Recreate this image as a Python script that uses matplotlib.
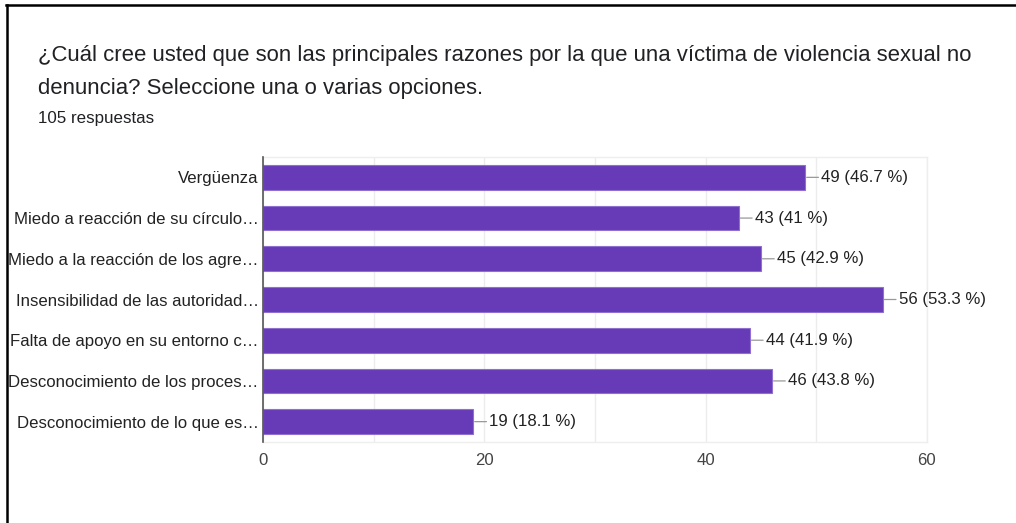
import matplotlib
matplotlib.use("Agg")
import matplotlib.pyplot as plt
from matplotlib.lines import Line2D

plt.rcParams['font.family'] = ['Liberation Sans', 'DejaVu Sans']

categories = [
    "Vergüenza",
    "Miedo a reacción de su círculo…",
    "Miedo a la reacción de los agre…",
    "Insensibilidad de las autoridad…",
    "Falta de apoyo en su entorno c…",
    "Desconocimiento de los proces…",
    "Desconocimiento de lo que es…",
]
counts = [49, 43, 45, 56, 44, 46, 19]
percents = ["46.7", "41", "42.9", "53.3", "41.9", "43.8", "18.1"]
xticks = [0, 20, 40, 60]

W, H = 1016, 523
fig = plt.figure(figsize=(W / 100, H / 100), dpi=100)

# frame lines (screenshot border)
fig.add_artist(Line2D([6.5 / W, 6.5 / W], [0, 1 - 5 / H], color="black", lw=1.8))
fig.add_artist(Line2D([5.8 / W, 1], [1 - 5 / H, 1 - 5 / H], color="black", lw=1.8))

fig.text(38 / W, 1 - 55 / H, "¿Cuál cree usted que son las principales razones por la que una víctima de violencia sexual no",
         fontsize=15.9, color="#202124", va="center", ha="left")
fig.text(38 / W, 1 - 88 / H, "denuncia? Seleccione una o varias opciones.",
         fontsize=15.9, color="#202124", va="center", ha="left")
fig.text(38 / W, 1 - 118 / H, "105 respuestas", fontsize=12.2, color="#202124", va="center", ha="left")

left, right = 263 / W, 927 / W
top, bottom = 1 - 157 / H, 1 - 442 / H
ax = fig.add_axes([left, bottom, right - left, top - bottom])

y = list(range(len(categories)))
ax.barh(y, counts, height=0.61, color="#673AB7", edgecolor="#8f6fd0", linewidth=0.8, zorder=3)
ax.set_ylim(len(categories) - 0.5, -0.5)
ax.set_xlim(0, 60)
ax.set_yticks(y)
ax.set_yticklabels(categories, fontsize=12.1, color="#222222")
ax.set_xticks(xticks)
ax.set_xticklabels([str(t) for t in xticks], fontsize=12.1, color="#444444")
ax.set_xticks([10, 30, 50], minor=True)
ax.tick_params(axis="both", which="both", length=0, pad=3)
ax.tick_params(axis="x", pad=8, which="both")
ax.grid(axis="x", which="both", color="#ececec", lw=1, zorder=0)

for s in ["top", "right", "bottom"]:
    ax.spines[s].set_color("#eeeeee")
    ax.spines[s].set_linewidth(1)
ax.spines["left"].set_color("#555555")
ax.spines["left"].set_linewidth(1.2)
ax.spines["left"].set_zorder(5)

for yi, c, p in zip(y, counts, percents):
    ax.annotate(f"{c} ({p} %)", xy=(c, yi), xytext=(16, 0), textcoords="offset pixels",
                va="center", ha="left", fontsize=12.1, color="#222222",
                arrowprops=dict(arrowstyle="-", color="#999999", lw=0.9, shrinkA=0, shrinkB=1))

fig.savefig("out.png", dpi=100, facecolor="white")
